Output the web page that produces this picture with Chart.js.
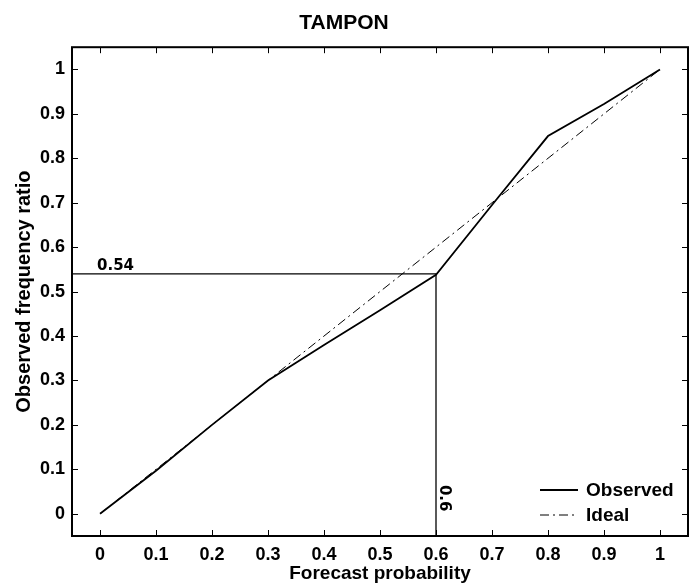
<!DOCTYPE html>
<html>
<head>
<meta charset="utf-8">
<script src="https://cdn.jsdelivr.net/npm/chart.js@4.4.1/dist/chart.umd.min.js"></script>
<style>
  html, body { margin: 0; padding: 0; background: #fff; }
  #wrap { width: 689px; height: 585px; }
</style>
</head>
<body>
<div id="wrap"><canvas id="c" width="689" height="585"></canvas></div>
<script>
// data
const forecastProb = [0, 0.1, 0.2, 0.3, 0.4, 0.5, 0.6, 0.7, 0.8, 0.9, 1];
const observedRatio = [0, 0.097, 0.2, 0.3, 0.38, 0.458, 0.538, 0.695, 0.85, 0.922, 1];
const idealRatio = [0, 1];
const idealProb = [0, 1];
const xTicks = [0, 0.1, 0.2, 0.3, 0.4, 0.5, 0.6, 0.7, 0.8, 0.9, 1];
const yTicks = [0, 0.1, 0.2, 0.3, 0.4, 0.5, 0.6, 0.7, 0.8, 0.9, 1];
const markProb = 0.6;
const markRatio = 0.54;
const axisMin = -0.05;
const axisMax = 1.05;

const FONT = "'Liberation Sans', Arial, sans-serif";
const fmt = v => String(Number(v.toFixed(2)));

// inside ticks, box, reference labels and legend (MATLAB style)
const matlabLook = {
    id: "matlabLook",
    afterDatasetsDraw(chart) {
        const ctx = chart.ctx;
        const a = chart.chartArea;
        const xs = chart.scales.x, ys = chart.scales.y;
        const len = 6;
        ctx.save();
        ctx.strokeStyle = "#000";
        ctx.lineWidth = 1;
        ctx.beginPath();
        xTicks.forEach(v => {
            const px = Math.round(xs.getPixelForValue(v)) + 0.5;
            ctx.moveTo(px, a.bottom); ctx.lineTo(px, a.bottom - len);
            ctx.moveTo(px, a.top); ctx.lineTo(px, a.top + len);
        });
        yTicks.forEach(v => {
            const py = Math.round(ys.getPixelForValue(v)) + 0.5;
            ctx.moveTo(a.left, py); ctx.lineTo(a.left + len, py);
            ctx.moveTo(a.right, py); ctx.lineTo(a.right - len, py);
        });
        ctx.stroke();
        ctx.lineWidth = 2;
        ctx.strokeRect(a.left, a.top, a.right - a.left, a.bottom - a.top);

        // reference labels
        ctx.fillStyle = "#000";
        ctx.font = "bold 15px 'DejaVu Sans', sans-serif";
        ctx.textAlign = "left";
        ctx.textBaseline = "alphabetic";
        ctx.fillText(fmt(markRatio), xs.getPixelForValue(0) - 3, ys.getPixelForValue(markRatio) - 4);
        ctx.save();
        ctx.translate(xs.getPixelForValue(markProb) + 4, ys.getPixelForValue(0.065));
        ctx.rotate(Math.PI / 2);
        ctx.fillText(fmt(markProb), 0, 0);
        ctx.restore();

        // legend in lower right corner
        const items = chart.data.datasets.filter(d => d.inLegend);
        ctx.font = "bold 19px " + FONT;
        ctx.textBaseline = "middle";
        items.forEach((d, i) => {
            const y = a.bottom - 46 + i * 25;
            ctx.beginPath();
            ctx.lineWidth = d.borderWidth;
            ctx.setLineDash(d.borderDash || []);
            ctx.moveTo(a.right - 148, y);
            ctx.lineTo(a.right - 110, y);
            ctx.stroke();
            ctx.setLineDash([]);
            ctx.fillText(d.label, a.right - 102, y + 1);
        });
        ctx.restore();
    }
};

const toPts = (xsArr, ysArr) => xsArr.map((x, i) => ({ x: x, y: ysArr[i] }));

new Chart(document.getElementById("c"), {
    type: "scatter",
    data: {
        datasets: [
            {
                label: "Observed",
                data: toPts(forecastProb, observedRatio),
                showLine: true,
                borderColor: "#000",
                borderWidth: 1.8,
                pointRadius: 0,
                inLegend: true
            },
            {
                label: "Ideal",
                data: toPts(idealProb, idealRatio),
                showLine: true,
                borderColor: "#000",
                borderWidth: 1,
                borderDash: [9, 4, 2, 4],
                pointRadius: 0,
                inLegend: true
            },
            {
                label: "guide-h",
                data: [{ x: axisMin, y: markRatio }, { x: markProb, y: markRatio }],
                showLine: true,
                borderColor: "#000",
                borderWidth: 1.3,
                pointRadius: 0
            },
            {
                label: "guide-v",
                data: [{ x: markProb, y: markRatio }, { x: markProb, y: axisMin }],
                showLine: true,
                borderColor: "#000",
                borderWidth: 1.3,
                pointRadius: 0
            }
        ]
    },
    options: {
        responsive: false,
        animation: false,
        layout: { padding: { left: 0, right: 1, top: 0, bottom: 0 } },
        plugins: {
            legend: { display: false },
            tooltip: { enabled: false },
            title: {
                display: true,
                text: "TAMPON",
                color: "#000",
                font: { family: FONT, size: 21, weight: "bold" },
                padding: { top: 11, bottom: 11 }
            }
        },
        scales: {
            x: {
                type: "linear",
                min: axisMin,
                max: axisMax,
                afterBuildTicks: s => { s.ticks = xTicks.map(v => ({ value: v })); },
                afterFit: s => { s.height = 49; },
                grid: { display: false, drawTicks: false },
                border: { display: false },
                ticks: {
                    color: "#000",
                    padding: 8,
                    maxRotation: 0,
                    autoSkip: false,
                    font: { family: FONT, size: 18, weight: "bold" },
                    callback: v => fmt(v)
                },
                title: {
                    display: true,
                    text: "Forecast probability",
                    color: "#000",
                    padding: { top: 0, bottom: 0 },
                    font: { family: FONT, size: 19, weight: "bold" }
                }
            },
            y: {
                type: "linear",
                min: axisMin,
                max: axisMax,
                afterBuildTicks: s => { s.ticks = yTicks.map(v => ({ value: v })); },
                afterFit: s => { s.width = 72; },
                grid: { display: false, drawTicks: false },
                border: { display: false },
                ticks: {
                    color: "#000",
                    padding: 7,
                    autoSkip: false,
                    font: { family: FONT, size: 18, weight: "bold" },
                    callback: v => fmt(v)
                },
                title: {
                    display: true,
                    text: "Observed frequency ratio",
                    color: "#000",
                    padding: { top: 12, bottom: 0 },
                    font: { family: FONT, size: 20, weight: "bold" }
                }
            }
        }
    },
    plugins: [matlabLook]
});
</script>
</body>
</html>
